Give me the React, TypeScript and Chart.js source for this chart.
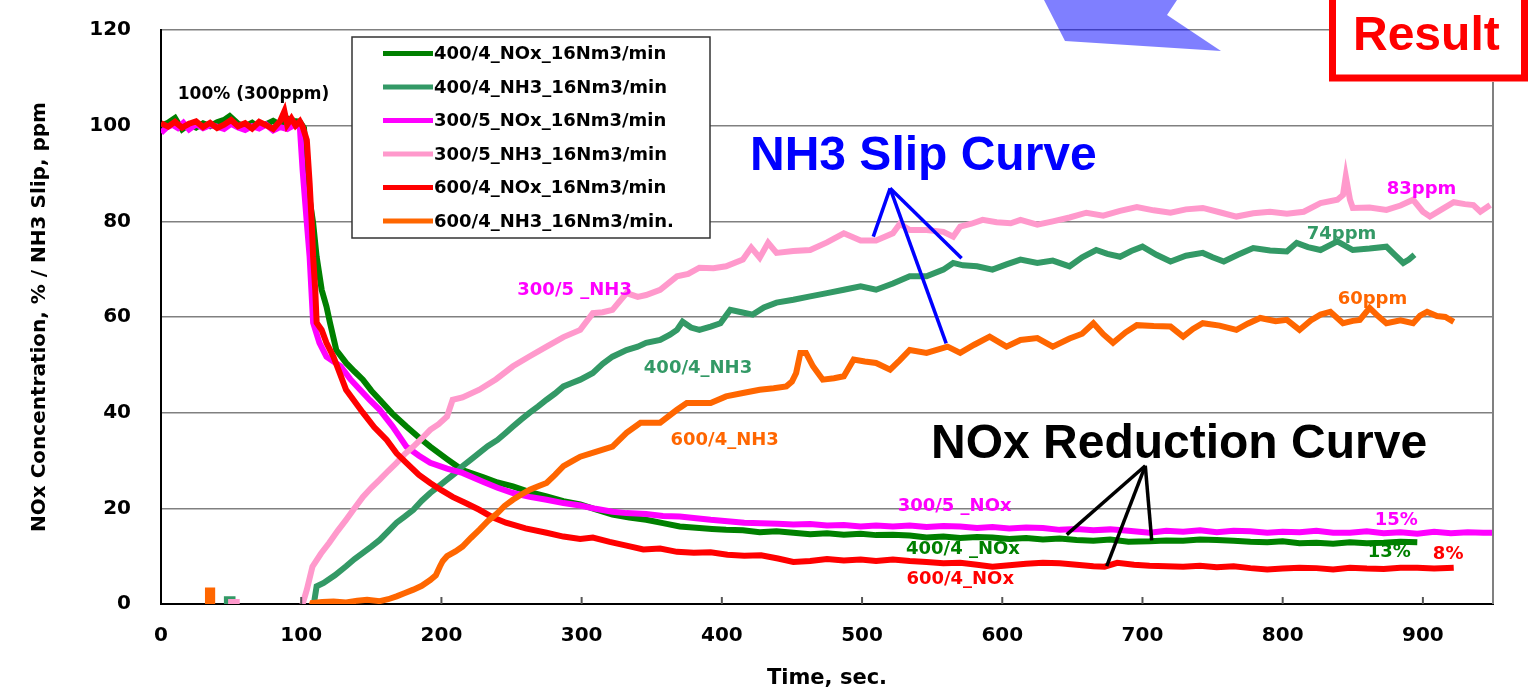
import React, { useEffect, useRef } from "react";
import { Chart, registerables } from "chart.js";

Chart.register(...registerables);

// ---------- data (time in s, value in % or ppm) ----------
const xTickValues = [0, 100, 200, 300, 400, 500, 600, 700, 800, 900];
const yTickValues = [0, 20, 40, 60, 80, 100, 120];

const seriesNames = [
  "400/4_NOx_16Nm3/min",
  "400/4_NH3_16Nm3/min",
  "300/5_NOx_16Nm3/min",
  "300/5_NH3_16Nm3/min",
  "600/4_NOx_16Nm3/min",
  "600/4_NH3_16Nm3/min.",
];

type Pt = [number, number | null];

const nox400: Pt[] = [[0,100.0],[5,100.6],[10,101.6],[15,99.2],[20,100.3],[25,99.6],[30,100.5],[35,99.9],[40,100.7],[45,101.2],[49,102.0],[55,100.4],[60,99.9],[65,100.6],[70,99.6],[75,100.3],[80,101.0],[85,100.2],[90,101.5],[95,101.0],[99,100.8],[102,99.5],[105,86.6],[108.5,79.7],[111,72.6],[114.6,65.7],[118,62.2],[120.5,58.8],[125,53.1],[132,50.4],[138,48.6],[144,46.9],[150,44.6],[156,42.7],[165,39.8],[175,37.1],[184,34.8],[192,32.9],[204,30.3],[215,28.0],[230,26.5],[240,25.4],[251,24.6],[263,23.4],[275,22.5],[287,21.5],[299,20.8],[310,19.8],[322,18.7],[334,18.1],[346,17.6],[358,16.9],[370,16.2],[384,15.9],[393,15.7],[403,15.5],[415,15.4],[427,15.0],[439,15.2],[451,14.9],[463,14.6],[475,14.8],[487,14.5],[499,14.7],[510,14.4],[522,14.5],[534,14.3],[546,13.9],[558,14.1],[570,13.8],[582,14.0],[593,13.9],[605,13.6],[617,13.8],[629,13.5],[641,13.7],[653,13.4],[665,13.2],[677,13.5],[690,13.0],[705,13.1],[717,13.3],[729,13.2],[741,13.5],[753,13.4],[765,13.2],[777,13.0],[789,12.9],[800,13.1],[812,12.7],[824,12.8],[836,12.6],[848,12.9],[860,12.7],[872,12.8],[884,13.0],[896,12.9]];

const nh3400: Pt[] = [[47,-2],[47,1],[51,1],[51,-2],[52,null],[108,-1],[109,0],[111,3.7],[116,4.4],[124,6.0],[132,7.9],[138,9.4],[144,10.7],[150,12.0],[156,13.4],[162,15.2],[168,17.0],[174,18.3],[180,19.7],[186,21.6],[192,23.2],[198,24.6],[204,26.0],[210,27.4],[215,28.8],[221,30.2],[227,31.6],[233,33.0],[240,34.3],[246,35.8],[251,37.1],[257,38.6],[263,40.0],[269,41.3],[275,42.7],[281,44.0],[287,45.5],[293,46.2],[299,46.9],[308,48.3],[315,50.2],[322,51.7],[332,53.1],[340,53.8],[346,54.6],[356,55.2],[363,56.3],[368,57.3],[372,59.0],[378,57.8],[384,57.3],[392,58.0],[399,58.7],[406,61.5],[414,61.0],[422,60.5],[430,62.0],[439,63.0],[451,63.6],[463,64.3],[475,65.0],[487,65.7],[499,66.4],[510,65.7],[522,67.0],[534,68.5],[546,68.5],[558,69.9],[565,71.3],[572,70.8],[582,70.6],[593,69.9],[603,71.0],[613,72.0],[625,71.3],[636,71.8],[648,70.6],[657,72.5],[667,74.0],[675,73.2],[684,72.6],[692,73.8],[700,74.7],[710,73.0],[720,71.6],[731,72.8],[743,73.4],[750,72.5],[758,71.6],[768,73.0],[779,74.4],[791,73.9],[803,73.7],[810,75.5],[818,74.6],[827,74.0],[839,75.8],[850,74.0],[862,74.3],[874,74.7],[880,73.0],[886,71.3],[890,72.0],[894,73.0]];

const nox300: Pt[] = [[0,98.5],[4,99.6],[8,100.2],[12,99.5],[16,100.6],[20,99.2],[25,100.3],[30,99.5],[35,100.1],[40,99.8],[45,99.3],[50,100.4],[55,99.6],[60,99.1],[65,99.9],[70,99.4],[75,100.2],[80,99.0],[85,99.7],[90,99.3],[95,100.1],[99,99.8],[101,90.7],[104,79.7],[106,72.6],[108.5,58.8],[113,54.6],[118,51.7],[128,49.7],[135,47.0],[142,44.8],[149,42.6],[156,40.6],[165,37.2],[175,32.9],[184,31.0],[192,29.5],[204,28.3],[215,27.4],[230,25.5],[240,24.3],[251,23.2],[263,22.4],[275,21.8],[287,21.1],[299,20.6],[310,19.9],[322,19.3],[332,19.0],[346,18.8],[358,18.4],[370,18.3],[380,18.0],[392,17.6],[404,17.3],[416,17.0],[428,16.9],[440,16.8],[451,16.6],[463,16.7],[475,16.4],[487,16.5],[499,16.2],[510,16.4],[522,16.2],[534,16.4],[546,16.1],[558,16.3],[570,16.2],[582,15.9],[593,16.1],[605,15.8],[617,16.0],[629,15.9],[641,15.5],[653,15.7],[665,15.4],[677,15.6],[690,15.3],[705,14.9],[717,15.3],[729,15.1],[741,15.4],[753,15.0],[765,15.3],[777,15.2],[789,14.9],[800,15.1],[812,15.0],[824,15.3],[836,14.9],[848,14.9],[860,15.2],[872,14.8],[884,15.0],[896,14.7],[908,15.1],[920,14.8],[932,15.0],[943,14.9],[950,14.9]];

const nh3300: Pt[] = [[50,-2],[50,0.4],[54,0.4],[54,-2],[55,null],[100,-1],[101,0],[104,3.0],[108,7.8],[114,10.5],[120,12.8],[126,15.3],[132,17.6],[138,20.0],[144,22.4],[150,24.3],[156,26.0],[162,27.8],[168,29.5],[174,31.4],[180,32.9],[186,34.6],[192,36.4],[198,37.6],[204,39.2],[208,42.7],[215,43.2],[227,44.8],[239,47.0],[251,49.7],[263,51.8],[275,53.8],[287,55.8],[299,57.3],[308,60.8],[315,61.0],[322,61.5],[332,65.0],[340,64.2],[346,64.6],[356,65.7],[368,68.5],[376,69.0],[384,70.3],[394,70.2],[403,70.6],[415,72.0],[421,74.5],[427,72.4],[433,75.5],[439,73.4],[451,73.8],[463,74.0],[475,75.6],[487,77.5],[499,76.0],[510,76.0],[522,77.5],[527,79.5],[534,78.2],[546,78.2],[558,77.8],[565,76.8],[570,78.9],[578,79.5],[586,80.3],[596,79.8],[606,79.6],[613,80.3],[625,79.3],[636,80.0],[648,80.8],[660,81.8],[672,81.2],[684,82.2],[696,83.0],[708,82.3],[720,81.8],[731,82.5],[743,82.8],[755,81.9],[767,81.0],[779,81.7],[791,82.0],[803,81.6],[815,82.0],[827,83.8],[839,84.5],[843,85.5],[845,89.4],[848,84.5],[850,82.8],[862,82.9],[874,82.4],[884,83.3],[893,84.5],[900,82.0],[905,81.0],[914,82.6],[922,84.0],[930,83.6],[936,83.4],[941,82.0],[948,83.4]];

const nox600: Pt[] = [[0,100.5],[5,99.8],[10,100.8],[15,99.6],[20,100.4],[25,100.9],[30,99.7],[35,100.6],[40,99.5],[45,100.2],[50,101.2],[55,99.9],[60,100.5],[65,99.4],[70,100.8],[75,100.1],[80,99.3],[85,101.0],[88,103.0],[90,100.2],[93,101.5],[96,100.0],[99,100.9],[101,99.8],[104,97.0],[106,88.0],[107.5,79.7],[108.5,72.6],[110,65.7],[111,58.8],[114.6,57.3],[118,54.6],[123,51.7],[132,44.8],[144,40.0],[152,37.0],[161,34.3],[168,31.5],[175,29.5],[184,27.0],[192,25.3],[200,23.8],[208,22.4],[218,21.0],[227,19.7],[236,18.2],[246,17.0],[260,15.8],[275,14.9],[287,14.1],[299,13.6],[308,13.9],[320,13.0],[332,12.2],[344,11.4],[356,11.6],[368,10.9],[380,10.7],[392,10.8],[404,10.3],[416,10.1],[428,10.2],[440,9.5],[451,8.8],[463,9.0],[475,9.4],[487,9.1],[499,9.3],[510,9.0],[522,9.3],[534,9.0],[546,8.8],[558,8.5],[570,8.6],[582,8.2],[593,7.8],[605,8.1],[617,8.4],[629,8.6],[641,8.5],[653,8.2],[665,7.9],[673,7.8],[682,8.6],[694,8.2],[705,8.0],[717,7.9],[729,7.8],[741,8.0],[753,7.7],[765,7.9],[777,7.5],[789,7.2],[800,7.4],[812,7.6],[824,7.5],[836,7.2],[848,7.6],[860,7.4],[872,7.3],[884,7.6],[896,7.6],[908,7.4],[922,7.6]];

const nh3600: Pt[] = [[33.5,-2],[33.5,2.8],[36.5,2.8],[36.5,-2],[37,null],[107,-1],[108,0.2],[115,0.4],[123,0.5],[132,0.3],[140,0.7],[147,0.9],[156,0.6],[162,1.0],[168,1.6],[174,2.3],[180,3.0],[186,3.8],[192,5.0],[196,6.0],[199,7.9],[201,9.0],[204,10.0],[210,11.0],[215,12.0],[221,13.8],[227,15.5],[233,17.3],[240,19.0],[245,20.5],[251,21.8],[257,22.9],[263,23.9],[269,24.6],[275,25.3],[281,27.0],[287,28.8],[293,29.8],[299,30.8],[310,31.8],[322,32.9],[332,35.8],[342,37.9],[356,37.9],[368,40.6],[375,42.0],[392,42.0],[403,43.4],[415,44.1],[427,44.8],[437,45.1],[446,45.5],[450,46.5],[453,48.3],[456,52.5],[460,52.5],[465,49.7],[472,46.9],[480,47.2],[487,47.6],[494,51.1],[502,50.7],[510,50.4],[520,49.0],[527,51.0],[534,53.1],[546,52.5],[561,53.8],[570,52.5],[580,54.2],[591,55.9],[603,53.8],[613,55.2],[625,55.6],[636,53.8],[648,55.5],[657,56.5],[665,58.7],[672,56.4],[679,54.6],[688,56.8],[696,58.3],[708,58.1],[720,58.0],[729,55.9],[736,57.5],[743,58.7],[755,58.2],[767,57.3],[775,58.6],[784,59.8],[795,59.1],[803,59.4],[812,57.3],[820,59.3],[827,60.5],[834,61.1],[843,58.7],[850,59.2],[855,59.4],[862,61.9],[868,60.2],[874,58.7],[884,59.3],[893,58.7],[898,60.3],[903,61.1],[910,60.2],[916,60.0],[922,59.0]];

const seriesData: Pt[][] = [nox400, nh3400, nox300, nh3300, nox600, nh3600];
const seriesColors = ["#008000", "#339966", "#FF00FF", "#FF99CC", "#FF0000", "#FF6600"];

// in-chart text labels: [text, time, value, colour]
const curveLabels: [string, number, number, string][] = [
  ["100% (300ppm)", 66, 106.4, "#000000"],
  ["300/5 _NH3", 295, 65.5, "#FF00FF"],
  ["400/4_NH3", 383, 49.2, "#339966"],
  ["600/4_NH3", 402, 34.3, "#FF6600"],
  ["300/5 _NOx", 566, 20.4, "#FF00FF"],
  ["400/4 _NOx", 572, 11.4, "#008000"],
  ["600/4_NOx", 570, 5.1, "#FF0000"],
  ["83ppm", 899, 86.6, "#FF00FF"],
  ["74ppm", 842, 77.2, "#339966"],
  ["60ppm", 864, 63.6, "#FF6600"],
  ["15%", 881, 17.4, "#FF00FF"],
  ["13%", 876, 10.7, "#008000"],
  ["8%", 918, 10.3, "#FF0000"],
];

// pointer lines: apex and ends in (time, value)
const nh3Apex: [number, number] = [520, 86.9];
const nh3Ends: [number, number][] = [[508, 76.8], [571, 72.3], [560, 54.5]];
const noxApex: [number, number] = [702, 28.9];
const noxEnds: [number, number][] = [[646, 14.5], [674.5, 7.9], [706.6, 13.3]];

const BOLD_WIDE = '"DejaVu Sans", sans-serif';
const ARIAL = '"Liberation Sans", Arial, sans-serif';

const overlayPlugin = {
  id: "overlay",
  afterDraw(chart: any) {
    const { ctx, chartArea } = chart;
    const xs = chart.scales.x;
    const ys = chart.scales.y;
    const px = (t: number) => xs.getPixelForValue(t);
    const py = (v: number) => ys.getPixelForValue(v);
    ctx.save();

    // inward tick marks on the time axis
    ctx.strokeStyle = "#555";
    ctx.lineWidth = 2;
    xTickValues.forEach((t) => {
      if (t === 0) return;
      ctx.beginPath();
      ctx.moveTo(px(t), chartArea.bottom);
      ctx.lineTo(px(t), chartArea.bottom - 7);
      ctx.stroke();
    });

    // right border
    ctx.strokeStyle = "#808080";
    ctx.lineWidth = 2;
    ctx.beginPath();
    ctx.moveTo(chartArea.right, chartArea.top);
    ctx.lineTo(chartArea.right, chartArea.bottom);
    ctx.stroke();

    // legend box
    const lx = 352, ly = 37, lw = 358, lh = 201;
    ctx.fillStyle = "#fff";
    ctx.fillRect(lx, ly, lw, lh);
    ctx.strokeStyle = "#333";
    ctx.lineWidth = 1.5;
    ctx.strokeRect(lx, ly, lw, lh);
    ctx.font = `bold 18px ${BOLD_WIDE}`;
    ctx.textBaseline = "middle";
    ctx.textAlign = "left";
    chart.data.datasets.forEach((ds: any, i: number) => {
      const cy = ly + 16.5 + i * 33.5;
      ctx.strokeStyle = ds.borderColor;
      ctx.lineWidth = 5;
      ctx.beginPath();
      ctx.moveTo(383, cy);
      ctx.lineTo(433, cy);
      ctx.stroke();
      ctx.fillStyle = "#000";
      ctx.fillText(ds.label, 434, cy + 1);
    });

    // curve labels
    ctx.textAlign = "center";
    ctx.textBaseline = "middle";
    curveLabels.forEach(([text, t, v, color]) => {
      ctx.font = text.startsWith("100%") ? `bold 17px ${BOLD_WIDE}` : `bold 18px ${BOLD_WIDE}`;
      ctx.fillStyle = color;
      ctx.fillText(text, px(t), py(v));
    });

    // pointer lines
    const drawPointers = (apex: [number, number], ends: [number, number][], color: string) => {
      ctx.strokeStyle = color;
      ctx.lineWidth = 3.5;
      ends.forEach(([t, v]) => {
        ctx.beginPath();
        ctx.moveTo(px(apex[0]), py(apex[1]));
        ctx.lineTo(px(t), py(v));
        ctx.stroke();
      });
    };
    drawPointers(nh3Apex, nh3Ends, "#0000FF");
    drawPointers(noxApex, noxEnds, "#000000");

    // headings
    ctx.textAlign = "left";
    ctx.textBaseline = "alphabetic";
    ctx.font = `bold 48px ${ARIAL}`;
    ctx.fillStyle = "#0000FF";
    ctx.fillText("NH3 Slip Curve", 750, 170);
    ctx.fillStyle = "#000000";
    ctx.fillText("NOx Reduction Curve", 931, 458);

    // translucent blue arrow at top
    ctx.fillStyle = "rgba(0,0,255,0.5)";
    ctx.beginPath();
    ctx.moveTo(1044, 0);
    ctx.lineTo(1177, 0);
    ctx.lineTo(1167, 15);
    ctx.lineTo(1221, 51);
    ctx.lineTo(1065, 41);
    ctx.closePath();
    ctx.fill();

    // Result box
    ctx.fillStyle = "#fff";
    ctx.fillRect(1329, -10, 199, 92);
    ctx.strokeStyle = "#FF0000";
    ctx.lineWidth = 7;
    ctx.strokeRect(1332.5, -10, 192, 88);
    ctx.fillStyle = "#FF0000";
    ctx.font = `bold 48px ${ARIAL}`;
    ctx.fillText("Result", 1353, 50);

    ctx.restore();
  },
};

export default function App() {
  const canvasRef = useRef<HTMLCanvasElement | null>(null);

  useEffect(() => {
    const canvas = canvasRef.current;
    if (!canvas) return;
    const n = seriesData.length;
    const chart = new Chart(canvas, {
      type: "line",
      data: {
        datasets: seriesData.map((pts, i) => ({
          label: seriesNames[i],
          data: pts.map(([x, y]) => ({ x, y })),
          borderColor: seriesColors[i],
          backgroundColor: seriesColors[i],
          borderWidth: 6,
          pointRadius: 0,
          tension: 0,
          fill: false,
          spanGaps: false,
          clip: 0,
          order: n - 1 - i,
        })),
      },
      options: {
        responsive: false,
        animation: false,
        devicePixelRatio: 1,
        events: [],
        layout: { padding: { left: 0, top: 30, right: 35, bottom: 0 } },
        plugins: {
          legend: { display: false },
          tooltip: { enabled: false },
          title: { display: false },
        },
        scales: {
          x: {
            type: "linear",
            min: 0,
            max: 950,
            afterBuildTicks: (scale: any) => {
              scale.ticks = xTickValues.map((v) => ({ value: v }));
            },
            afterFit: (scale: any) => {
              scale.height = 87;
            },
            grid: { display: false, drawTicks: false },
            border: { display: true, color: "#000", width: 2 },
            ticks: {
              color: "#000",
              padding: 20,
              maxRotation: 0,
              autoSkip: false,
              font: { family: BOLD_WIDE, weight: "bold", size: 20 },
            },
            title: {
              display: true,
              text: "Time, sec.",
              color: "#000",
              padding: { top: 0, bottom: 0 },
              font: { family: BOLD_WIDE, weight: "bold", size: 21 },
            },
          },
          y: {
            type: "linear",
            min: 0,
            max: 120,
            afterBuildTicks: (scale: any) => {
              scale.ticks = yTickValues.map((v) => ({ value: v }));
            },
            afterFit: (scale: any) => {
              scale.width = 161;
            },
            grid: {
              display: true,
              drawTicks: true,
              tickLength: 30,
              tickColor: "rgba(0,0,0,0)",
              color: (c: any) => (c.tick && c.tick.value === 0 ? "rgba(0,0,0,0)" : "#808080"),
              lineWidth: 1.5,
            },
            border: { display: true, color: "#000", width: 2 },
            ticks: {
              color: "#000",
              padding: 0,
              font: { family: BOLD_WIDE, weight: "bold", size: 20 },
            },
            title: {
              display: true,
              text: "NOx Concentration, % / NH3 Slip, ppm",
              color: "#000",
              padding: { top: 28, bottom: 0 },
              font: { family: BOLD_WIDE, weight: "bold", size: 20 },
            },
          },
        },
      },
      plugins: [overlayPlugin],
    } as any);
    return () => chart.destroy();
  }, []);

  return (
    <div style={{ position: "absolute", left: 0, top: 0, width: 1528, height: 691, background: "#fff" }}>
      <canvas ref={canvasRef} width={1528} height={691} style={{ width: 1528, height: 691, display: "block" }} />
    </div>
  );
}
